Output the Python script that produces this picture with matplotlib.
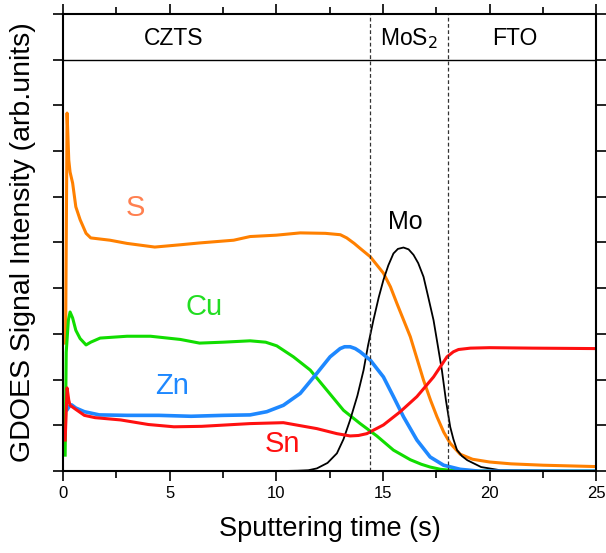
import matplotlib
matplotlib.use("Agg")
import matplotlib.pyplot as plt
from matplotlib.ticker import MultipleLocator, NullFormatter

plt.rcParams['font.family'] = ['Liberation Sans', 'DejaVu Sans']

# sputtering time (s) and intensity (arb. units)
s_time = [0.12, 0.19, 0.27, 0.33, 0.45, 0.6, 0.8, 1.08, 1.3, 2.2, 3.0, 4.3, 5.5, 6.4, 8.0,
          8.77, 10.0, 11.12, 12.3, 13.0, 13.3, 13.65, 13.93, 14.4, 15.02, 15.35, 15.65, 16.28,
          16.9, 17.23, 17.53, 17.85, 18.15, 18.62, 19.2, 20.0, 21.0, 22.5, 25.0]
s_int = [2.8, 7.83, 6.8, 6.54, 6.3, 5.78, 5.5, 5.2, 5.1, 5.05, 4.98, 4.9, 4.95, 4.99, 5.05,
         5.13, 5.16, 5.21, 5.2, 5.17, 5.1, 4.98, 4.87, 4.69, 4.33, 4.03, 3.67, 2.94,
         1.99, 1.55, 1.19, 0.85, 0.61, 0.37, 0.26, 0.2, 0.16, 0.13, 0.1]

cu_time = [0.1, 0.15, 0.25, 0.33, 0.45, 0.6, 0.8, 1.08, 1.3, 1.74, 3.0, 4.1, 5.5, 6.4, 7.5,
           8.77, 9.5, 10.02, 10.8, 11.59, 12.37, 13.15, 13.93, 14.71, 15.49, 16.28, 16.8,
           17.21, 17.7, 18.15, 19.0, 25.0]
cu_int = [0.35, 2.6, 3.3, 3.48, 3.35, 3.08, 2.9, 2.76, 2.82, 2.91, 2.95, 2.95, 2.88, 2.8, 2.82,
          2.85, 2.82, 2.74, 2.5, 2.21, 1.77, 1.33, 1.04, 0.77, 0.46, 0.25, 0.15,
          0.09, 0.04, 0.02, 0.0, 0.0]

zn_time = [0.2, 0.3, 0.4, 0.6, 1.0, 1.7, 3.0, 4.5, 6.0, 7.5, 8.77, 9.55, 10.33, 11.12, 11.9,
           12.52, 12.99, 13.2, 13.46, 13.7, 13.93, 14.4, 15.02, 15.49, 15.96, 16.59, 17.21,
           17.84, 18.62, 19.5, 25.0]
zn_int = [1.35, 1.42, 1.45, 1.38, 1.3, 1.23, 1.22, 1.22, 1.2, 1.22, 1.23, 1.3, 1.44, 1.7, 2.14,
          2.5, 2.68, 2.72, 2.72, 2.68, 2.61, 2.43, 2.06, 1.63, 1.19, 0.68, 0.31,
          0.13, 0.04, 0.0, 0.0]

sn_time = [0.1, 0.19, 0.27, 0.33, 0.6, 1.0, 1.5, 2.7, 4.0, 5.2, 6.5, 8.77, 10.33, 11.9, 12.84,
           13.46, 13.85, 14.24, 15.02, 15.81, 16.59, 17.37, 18.0, 18.3, 18.54, 19.1, 20.0, 22.0,
           25.0]
sn_int = [0.68, 1.82, 1.55, 1.44, 1.35, 1.22, 1.17, 1.12, 1.02, 0.97, 0.98, 1.04, 1.06, 0.93, 0.82,
          0.77, 0.78, 0.82, 1.01, 1.3, 1.63, 2.06, 2.5, 2.61, 2.66, 2.69, 2.7, 2.69, 2.68]

mo_time = [0.0, 10.0, 11.0, 11.5, 11.9, 12.4, 12.84, 13.15, 13.46, 13.8, 14.09, 14.3, 14.55,
           14.8, 15.02, 15.25, 15.49, 15.7, 15.96, 16.2, 16.43, 16.65, 16.9, 17.1, 17.37,
           17.55, 17.76, 17.95, 18.15, 18.3, 18.47, 18.7, 18.95, 19.6, 20.5, 25.0]
mo_int = [0.0, 0.0, 0.01, 0.02, 0.06, 0.18, 0.39, 0.7, 1.12, 1.65, 2.21, 2.75, 3.3,
          3.8, 4.18, 4.5, 4.76, 4.86, 4.89, 4.85, 4.73, 4.55, 4.25, 3.85, 3.3,
          2.8, 2.21, 1.55, 0.97, 0.7, 0.46, 0.33, 0.24, 0.09, 0.02, 0.0]

layer_edges = [14.37, 18.07]
layer_names = ["CZTS", "MoS$_2$", "FTO"]
layer_label_x = [5.2, 16.2, 21.2]

fig = plt.figure(figsize=(6.06, 5.53), dpi=100)
ax = fig.add_axes([0.104, 0.148, 0.88, 0.827])

ax.plot(s_time, s_int, color="#FF8000", lw=2.2)
ax.plot(cu_time, cu_int, color="#11DD00", lw=2.2)
ax.plot(mo_time, mo_int, color="black", lw=1.3)
ax.plot(zn_time, zn_int, color="#1E88FF", lw=2.6)
ax.plot(sn_time, sn_int, color="#FF1010", lw=2.2)

ax.text(3.4, 5.75, "S", color="#FF8050", fontsize=21, ha="center", va="center")
ax.text(6.6, 3.6, "Cu", color="#22DD22", fontsize=21, ha="center", va="center")
ax.text(5.1, 1.87, "Zn", color="#1E88FF", fontsize=21, ha="center", va="center")
ax.text(10.3, 0.6, "Sn", color="#FF1010", fontsize=21, ha="center", va="center")
ax.text(16.05, 5.45, "Mo", color="black", fontsize=18, ha="center", va="center")

# layer header
ax.axhline(9.0, color="black", lw=1.0)
for xe in layer_edges:
    ax.axvline(xe, color="#333333", lw=0.9, ls=(0, (3, 2)))
for xl, name in zip(layer_label_x, layer_names):
    ax.text(xl, 9.45, name, fontsize=16.5, ha="center", va="center")

ax.set_xlim(0, 25)
ax.set_ylim(0, 10)
ax.xaxis.set_major_locator(MultipleLocator(5))
ax.xaxis.set_minor_locator(MultipleLocator(2.5))
ax.yaxis.set_major_locator(MultipleLocator(1))
ax.yaxis.set_major_formatter(NullFormatter())

for sp in ax.spines.values():
    sp.set_linewidth(1.5)
ax.tick_params(axis="both", which="major", direction="out", length=7, width=1.2, labelsize=12)
ax.tick_params(axis="x", which="minor", direction="out", length=5, width=1.2)
ax.tick_params(top=True, right=True, which="both")

ax.set_xlabel("Sputtering time (s)", fontsize=19.5, labelpad=11)
ax.set_ylabel("GDOES Signal Intensity (arb.units)", fontsize=20.5, labelpad=9)

fig.savefig("out.png", dpi=100)
